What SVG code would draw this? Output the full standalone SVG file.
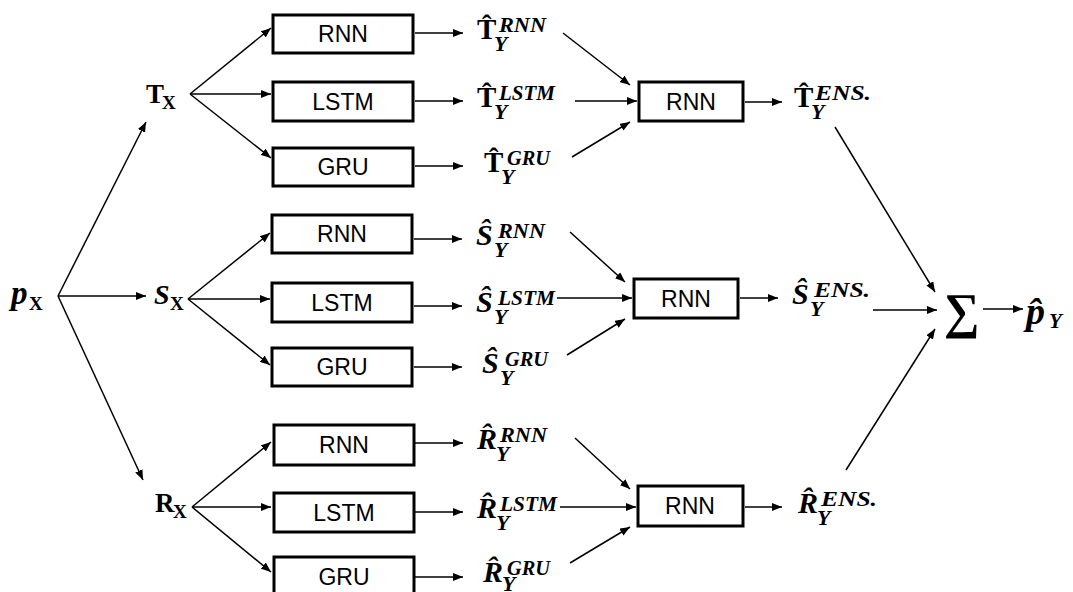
<svg xmlns="http://www.w3.org/2000/svg" width="1073" height="592" viewBox="0 0 1073 592">
<defs>
<marker id="ah" markerUnits="userSpaceOnUse" markerWidth="10" markerHeight="8" refX="10" refY="4" orient="auto"><path d="M0,0 L10,4 L0,8 z" fill="#000"/></marker>
<style>
.box{fill:#fff;stroke:#000;stroke-width:3}
.bt{font-family:"Liberation Sans",Arial,sans-serif;font-size:23px;text-anchor:middle;fill:#000}
.ln{stroke:#000;stroke-width:1.5;fill:none;marker-end:url(#ah)}
.m{font-family:"Liberation Serif","DejaVu Serif",serif;font-weight:bold;font-style:italic;font-size:30px}
.mu{font-family:"Liberation Serif","DejaVu Serif",serif;font-weight:bold;font-size:29px}
.sub{font-family:"Liberation Serif","DejaVu Serif",serif;font-weight:bold;font-style:italic;font-size:22px}
.subu{font-family:"Liberation Serif","DejaVu Serif",serif;font-weight:bold;font-size:21px}
.sup{font-family:"Liberation Serif","DejaVu Serif",serif;font-weight:bold;font-style:italic;font-size:20px}
.sum{font-family:"Liberation Serif","DejaVu Serif",serif;font-size:50px;font-weight:bold}
</style>
</defs>
<rect width="1073" height="592" fill="#fff"/>

<g id="connectors">
<line class="ln" x1="58" y1="296" x2="146" y2="122"/>
<line class="ln" x1="58" y1="296" x2="146" y2="296"/>
<line class="ln" x1="58" y1="296" x2="143" y2="480"/>
<line class="ln" x1="190" y1="94" x2="271" y2="28"/>
<line class="ln" x1="190" y1="94" x2="271" y2="94"/>
<line class="ln" x1="190" y1="94" x2="271" y2="158"/>
<line class="ln" x1="188" y1="299" x2="270" y2="233"/>
<line class="ln" x1="188" y1="299" x2="270" y2="299"/>
<line class="ln" x1="188" y1="299" x2="270" y2="365"/>
<line class="ln" x1="192" y1="507" x2="271" y2="442"/>
<line class="ln" x1="192" y1="507" x2="271" y2="507"/>
<line class="ln" x1="192" y1="507" x2="271" y2="572"/>
<line class="ln" x1="415" y1="33" x2="463" y2="33"/>
<line class="ln" x1="415" y1="101" x2="463" y2="101"/>
<line class="ln" x1="415" y1="166" x2="463" y2="166"/>
<line class="ln" x1="414" y1="239" x2="462" y2="239"/>
<line class="ln" x1="414" y1="306" x2="462" y2="306"/>
<line class="ln" x1="414" y1="367" x2="462" y2="367"/>
<line class="ln" x1="415" y1="443" x2="463" y2="443"/>
<line class="ln" x1="415" y1="512" x2="463" y2="512"/>
<line class="ln" x1="415" y1="577" x2="463" y2="577"/>
<line class="ln" x1="563" y1="33" x2="630" y2="85"/>
<line class="ln" x1="575" y1="101" x2="637" y2="101"/>
<line class="ln" x1="572" y1="157" x2="630" y2="122"/>
<line class="ln" x1="570" y1="232" x2="625" y2="282"/>
<line class="ln" x1="557" y1="298" x2="632" y2="298"/>
<line class="ln" x1="567" y1="355" x2="625" y2="319"/>
<line class="ln" x1="575" y1="438" x2="630" y2="489"/>
<line class="ln" x1="560" y1="507" x2="636" y2="507"/>
<line class="ln" x1="570" y1="563" x2="630" y2="527"/>
<line class="ln" x1="745" y1="102" x2="782" y2="102"/>
<line class="ln" x1="740" y1="298" x2="778" y2="298"/>
<line class="ln" x1="745" y1="507" x2="782" y2="507"/>
<line class="ln" x1="835" y1="127" x2="935" y2="292"/>
<line class="ln" x1="873" y1="310" x2="937" y2="310"/>
<line class="ln" x1="846" y1="470" x2="935" y2="329"/>
<line class="ln" x1="983" y1="309" x2="1023" y2="309"/>
</g>

<g id="pX"><text class="m" x="11" y="304" style="font-size:33px">p</text><text class="subu" x="29" y="310" style="font-size:19px">X</text></g>
<g id="TX"><text class="mu" x="146" y="103" style="font-size:27px">T</text><text class="subu" x="162" y="109" style="font-size:19px">X</text></g>
<g id="SX"><text class="m" x="154" y="304" style="font-size:28px">S</text><text class="subu" x="170" y="310" style="font-size:19px">X</text></g>
<g id="RX"><text class="mu" x="155" y="512" style="font-size:27px">R</text><text class="subu" x="173" y="518" style="font-size:19px">X</text></g>

<g id="T-RNN"><rect class="box" x="273" y="15" width="140" height="38"/><text class="bt" x="343" y="42">RNN</text></g>
<g id="T-LSTM"><rect class="box" x="273" y="82" width="140" height="39"/><text class="bt" x="343" y="110">LSTM</text></g>
<g id="T-GRU"><rect class="box" x="273" y="148" width="140" height="38"/><text class="bt" x="343" y="175">GRU</text></g>
<g id="S-RNN"><rect class="box" x="272" y="215" width="140" height="38"/><text class="bt" x="342" y="242">RNN</text></g>
<g id="S-LSTM"><rect class="box" x="272" y="283" width="140" height="39"/><text class="bt" x="342" y="311">LSTM</text></g>
<g id="S-GRU"><rect class="box" x="272" y="348" width="140" height="38"/><text class="bt" x="342" y="375">GRU</text></g>
<g id="R-RNN"><rect class="box" x="274" y="425" width="140" height="40"/><text class="bt" x="344" y="453">RNN</text></g>
<g id="R-LSTM"><rect class="box" x="274" y="493" width="140" height="39"/><text class="bt" x="344" y="521">LSTM</text></g>
<g id="R-GRU"><rect class="box" x="274" y="557" width="140" height="40"/><text class="bt" x="344" y="585">GRU</text></g>

<g id="T-ENS-RNN"><rect class="box" x="639" y="82" width="104" height="39"/><text class="bt" x="691" y="110">RNN</text></g>
<g id="S-ENS-RNN"><rect class="box" x="634" y="279" width="104" height="39"/><text class="bt" x="686" y="307">RNN</text></g>
<g id="R-ENS-RNN"><rect class="box" x="638" y="486" width="105" height="40"/><text class="bt" x="690" y="514">RNN</text></g>

<g id="TY-RNN"><text class="mu" x="477" y="39">T&#x302;</text><text class="sub" x="494" y="51">Y</text><text class="sup" x="499" y="32" textLength="47" lengthAdjust="spacingAndGlyphs">RNN</text></g>
<g id="TY-LSTM"><text class="mu" x="477" y="107">T&#x302;</text><text class="sub" x="494" y="119">Y</text><text class="sup" x="499" y="100" textLength="56" lengthAdjust="spacingAndGlyphs">LSTM</text></g>
<g id="TY-GRU"><text class="mu" x="484" y="172">T&#x302;</text><text class="sub" x="501" y="184">Y</text><text class="sup" x="507" y="165" textLength="43" lengthAdjust="spacingAndGlyphs">GRU</text></g>
<g id="TY-ENS"><text class="mu" x="794" y="107">T&#x302;</text><text class="sub" x="811" y="119">Y</text><text class="sup" x="815" y="100" textLength="56" lengthAdjust="spacingAndGlyphs">ENS.</text></g>

<g id="SY-RNN"><text class="m" x="476" y="245">S&#x302;</text><text class="sub" x="494" y="257">Y</text><text class="sup" x="498" y="238" textLength="47" lengthAdjust="spacingAndGlyphs">RNN</text></g>
<g id="SY-LSTM"><text class="m" x="476" y="312">S&#x302;</text><text class="sub" x="494" y="324">Y</text><text class="sup" x="498" y="305" textLength="57" lengthAdjust="spacingAndGlyphs">LSTM</text></g>
<g id="SY-GRU"><text class="m" x="482" y="373">S&#x302;</text><text class="sub" x="500" y="385">Y</text><text class="sup" x="505" y="366" textLength="43" lengthAdjust="spacingAndGlyphs">GRU</text></g>
<g id="SY-ENS"><text class="m" x="792" y="304">S&#x302;</text><text class="sub" x="810" y="316">Y</text><text class="sup" x="814" y="297" textLength="56" lengthAdjust="spacingAndGlyphs">ENS.</text></g>

<g id="RY-RNN"><text class="m" x="477" y="449">R&#x302;</text><text class="sub" x="496" y="461">Y</text><text class="sup" x="500" y="442" textLength="47" lengthAdjust="spacingAndGlyphs">RNN</text></g>
<g id="RY-LSTM"><text class="m" x="477" y="518">R&#x302;</text><text class="sub" x="496" y="530">Y</text><text class="sup" x="500" y="511" textLength="57" lengthAdjust="spacingAndGlyphs">LSTM</text></g>
<g id="RY-GRU"><text class="m" x="483" y="582">R&#x302;</text><text class="sub" x="502" y="591">Y</text><text class="sup" x="507" y="575" textLength="43" lengthAdjust="spacingAndGlyphs">GRU</text></g>
<g id="RY-ENS"><text class="m" x="798" y="513">R&#x302;</text><text class="sub" x="817" y="525">Y</text><text class="sup" x="821" y="506" textLength="56" lengthAdjust="spacingAndGlyphs">ENS.</text></g>

<g id="sum"><text class="sum" x="944" y="328">∑</text></g>
<g id="pY"><text class="m" x="1026" y="324" style="font-size:38px">p&#x302;</text><text class="sub" x="1049" y="328" style="font-size:21px">Y</text></g>
</svg>
